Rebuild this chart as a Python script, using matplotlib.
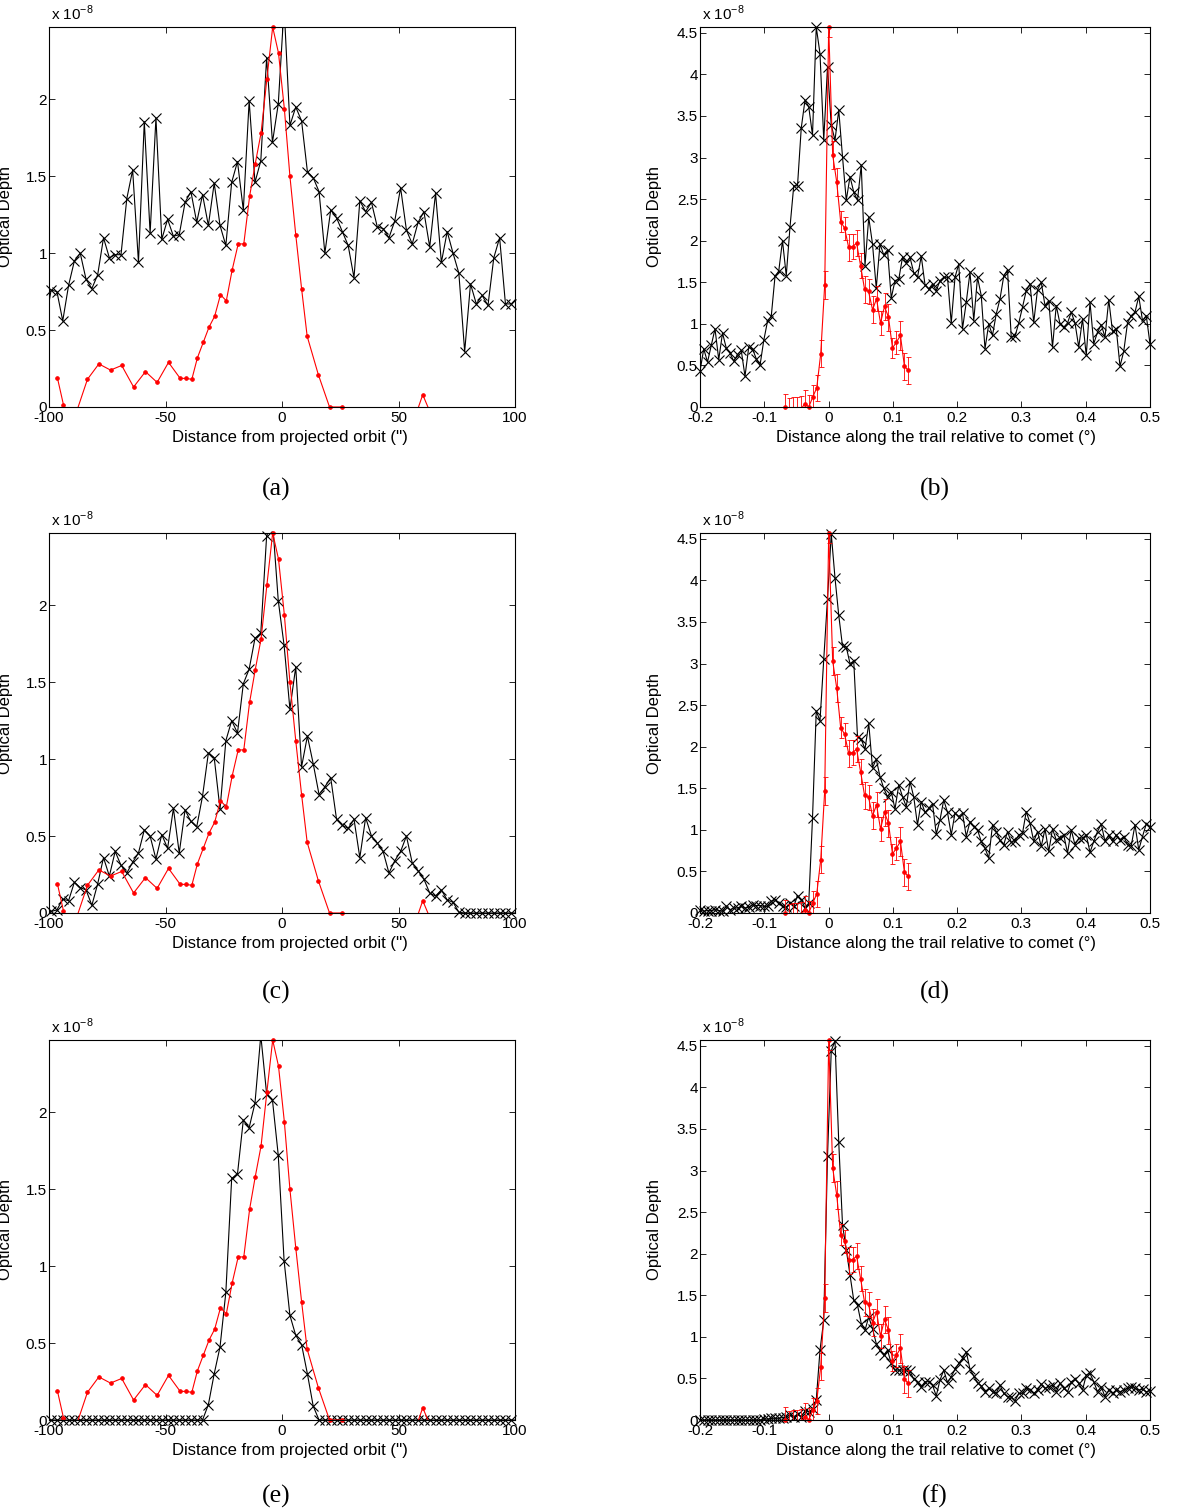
import numpy as np
import matplotlib
matplotlib.use('Agg')
import matplotlib.pyplot as plt
from matplotlib.ticker import FuncFormatter

plt.rcParams['font.family'] = ['Liberation Sans', 'DejaVu Sans']
plt.rcParams['axes.unicode_minus'] = False
plt.rcParams['mathtext.fontset'] = 'custom'
plt.rcParams['mathtext.rm'] = 'Liberation Sans'

# ---- data (optical depth in units of 1e-8) ----
# cross-trail profiles, sample grid of the black curves (arcsec)
x_cross = np.arange(82) * 2.5 - 101.6

y_cross_a = [0.54,
             0.76, 0.75, 0.56, 0.79, 0.95, 1.0, 0.83, 0.77, 0.86, 1.10,
             0.97, 0.99, 0.99, 1.355, 1.54, 0.94, 1.855, 1.13, 1.88, 1.09,
             1.22, 1.11, 1.12, 1.33, 1.40, 1.20, 1.38, 1.18, 1.455, 1.18,
             1.05, 1.46, 1.595, 1.28, 1.99, 1.46, 1.60, 2.27, 1.72, 1.97,
             2.6, 1.83, 1.95, 1.86, 1.53, 1.49, 1.40, 1.0, 1.28, 1.23,
             1.14, 1.05, 0.84, 1.34, 1.27, 1.33, 1.17, 1.16, 1.10, 1.21,
             1.425, 1.15, 1.06, 1.20, 1.27, 1.04, 1.39, 0.94, 1.14, 1.0,
             0.87, 0.36, 0.80, 0.67, 0.725, 0.66, 0.97, 1.10, 0.67, 0.67,
             0.71]

y_cross_c = [0.0,
             0.01, 0.02, 0.09, 0.08, 0.20, 0.165, 0.15, 0.05, 0.19, 0.36,
             0.24, 0.40, 0.31, 0.26, 0.33, 0.39, 0.54, 0.50, 0.35, 0.51,
             0.42, 0.68, 0.39, 0.67, 0.595, 0.56, 0.76, 1.04, 1.01, 0.675,
             1.12, 1.25, 1.17, 1.49, 1.585, 1.785, 1.82, 2.45, 2.55, 2.03,
             1.74, 1.325, 1.60, 0.95, 1.15, 0.97, 0.77, 0.82, 0.88, 0.61,
             0.57, 0.55, 0.61, 0.36, 0.62, 0.50, 0.455, 0.40, 0.26, 0.34,
             0.40, 0.50, 0.325, 0.275, 0.22, 0.13, 0.11, 0.15, 0.085, 0.07,
             0.005, 0.0, 0.0, 0.0, 0.0, 0.0, 0.0, 0.0, 0.0, 0.0,
             0.0]

y_cross_e = [0.0,
             0.0, 0.0, 0.0, 0.0, 0.0, 0.0, 0.0, 0.0, 0.0, 0.0,
             0.0, 0.0, 0.0, 0.0, 0.0, 0.0, 0.0, 0.0, 0.0, 0.0,
             0.0, 0.0, 0.0, 0.0, 0.0, 0.0, 0.0, 0.10, 0.30, 0.475,
             0.83, 1.57, 1.60, 1.95, 1.90, 2.06, 2.5, 2.12, 2.08, 1.72,
             1.035, 0.68, 0.55, 0.49, 0.30, 0.09, 0.0, 0.0, 0.0, 0.0,
             0.0, 0.0, 0.0, 0.0, 0.0, 0.0, 0.0, 0.0, 0.0, 0.0,
             0.0, 0.0, 0.0, 0.0, 0.0, 0.0, 0.0, 0.0, 0.0, 0.0,
             0.0, 0.0, 0.0, 0.0, 0.0, 0.0, 0.0, 0.0, 0.0, 0.0,
             0.0]

# observed cross-trail profile (red, same in a, c, e)
x_obs_cross = [-96.4, -93.8, -91.2, -88.6, -83.5, -78.6, -73.6, -68.8, -63.7, -58.6,
               -53.6, -48.7, -43.7, -41.2, -38.7, -36.3, -33.8, -31.3, -28.9, -26.4,
               -23.9, -21.4, -18.8, -16.4, -13.9, -11.5, -9.0, -6.5, -4.0, -1.5,
               1.0, 3.4, 5.9, 8.4, 10.8, 15.6, 20.4, 25.6, 30.5, 40.0,
               50.0, 57.9, 60.4, 62.9, 70.0, 80.0, 90.0, 100.0]
y_obs_cross = [0.19, 0.015, -0.15, -0.05, 0.18, 0.28, 0.24, 0.27, 0.13, 0.23,
               0.16, 0.29, 0.186, 0.186, 0.18, 0.32, 0.42, 0.52, 0.59, 0.73,
               0.69, 0.89, 1.06, 1.06, 1.37, 1.58, 1.78, 2.13, 2.47, 2.30,
               1.94, 1.50, 1.12, 0.77, 0.46, 0.21, 0.0, 0.0, -0.3, -0.3,
               -0.3, -0.03, 0.08, -0.01, -0.3, -0.3, -0.3, -0.3]

# along-trail profiles (degrees)
x_along = np.linspace(-0.2, 0.5, 121)

y_along_b = [0.43, 0.70, 0.54, 0.74, 0.94, 0.57, 0.89, 0.71, 0.65, 0.55,
             0.63, 0.68, 0.37, 0.72, 0.70, 0.58, 0.50, 0.80, 1.03, 1.09,
             1.57, 1.635, 2.0, 1.58, 2.165, 2.66, 2.66, 3.355, 3.69, 3.61,
             3.27, 4.57, 4.25, 3.21, 4.09, 3.39, 3.21, 3.57, 3.01, 2.485,
             2.77, 2.585, 2.485, 2.91, 1.70, 2.28, 1.96, 1.43, 1.96, 1.83,
             1.89, 1.31, 1.52, 1.535, 1.80, 1.735, 1.80, 1.615, 1.56, 1.815,
             1.47, 1.42, 1.48, 1.40, 1.52, 1.56, 1.56, 1.01, 1.56, 1.72,
             0.94, 1.26, 1.62, 1.04, 1.56, 1.34, 0.70, 1.0, 0.86, 1.12,
             1.30, 1.575, 1.65, 0.84, 0.85, 1.01, 1.20, 1.40, 1.48, 1.02,
             1.41, 1.50, 1.22, 1.28, 0.72, 1.22, 1.0, 0.96, 1.01, 1.14,
             1.01, 0.72, 1.06, 0.62, 1.26, 0.76, 0.90, 0.99, 0.84, 1.29,
             0.91, 0.94, 0.49, 0.67, 1.01, 1.10, 1.14, 1.33, 1.04, 1.10,
             0.76]

y_along_d = [0.04, 0.02, 0.03, 0.03, 0.04, 0.03, 0.02, 0.08, 0.04, 0.06,
             0.06, 0.08, 0.06, 0.07, 0.10, 0.09, 0.09, 0.08, 0.08, 0.14,
             0.16, 0.12, 0.08, 0.07, 0.12, 0.08, 0.21, 0.16, 0.06, 0.12,
             1.14, 2.43, 2.31, 3.05, 3.78, 4.56, 4.03, 3.58, 3.21, 3.20,
             3.0, 3.03, 2.12, 2.09, 1.97, 2.28, 1.745, 1.85, 1.64, 1.50,
             1.40, 1.46, 1.25, 1.54, 1.40, 1.28, 1.58, 1.395, 1.06, 1.34,
             1.21, 1.26, 1.315, 0.95, 1.12, 1.36, 1.21, 0.94, 1.20, 1.16,
             1.20, 0.92, 1.10, 1.04, 1.0, 0.86, 0.78, 0.66, 1.06, 0.98,
             0.875, 0.82, 0.98, 0.85, 0.86, 0.94, 0.96, 1.22, 1.08, 0.86,
             0.98, 0.80, 1.01, 0.74, 1.01, 0.88, 0.90, 0.94, 0.72, 1.0,
             0.82, 0.90, 0.90, 0.94, 0.73, 0.86, 0.98, 1.07, 0.86, 0.94,
             0.86, 0.94, 0.88, 0.92, 0.82, 0.81, 1.06, 0.76, 0.92, 1.07,
             1.04]

y_along_f = [0.0, 0.0, 0.0, 0.0, 0.0, 0.0, 0.0, 0.0, 0.0, 0.0,
             0.0, 0.0, 0.0, 0.0, 0.0, 0.0, 0.0, 0.01, 0.01, 0.02,
             0.02, 0.02, 0.03, 0.04, 0.06, 0.04, 0.07, 0.04, 0.11, 0.10,
             0.13, 0.24, 0.84, 1.20, 3.17, 4.44, 4.56, 3.34, 2.35, 2.05,
             1.745, 1.44, 1.38, 1.16, 1.08, 1.24, 1.10, 0.92, 0.84, 0.78,
             0.84, 0.68, 0.60, 0.60, 0.60, 0.60, 0.59, 0.49, 0.46, 0.40,
             0.46, 0.46, 0.42, 0.29, 0.48, 0.60, 0.45, 0.52, 0.61, 0.68,
             0.74, 0.82, 0.61, 0.53, 0.45, 0.41, 0.34, 0.38, 0.34, 0.32,
             0.42, 0.32, 0.28, 0.28, 0.23, 0.32, 0.32, 0.39, 0.36, 0.32,
             0.36, 0.43, 0.38, 0.40, 0.42, 0.34, 0.44, 0.38, 0.34, 0.46,
             0.49, 0.44, 0.36, 0.54, 0.56, 0.46, 0.34, 0.40, 0.28, 0.36,
             0.32, 0.36, 0.34, 0.36, 0.38, 0.40, 0.38, 0.36, 0.37, 0.34,
             0.35]

# observed along-trail profile with errors (red, same in b, d, f)
x_obs_along = np.arange(32) * 0.0062 - 0.068
y_obs_along = [0.0, -0.03, -0.03, -0.03, -0.03, 0.04, 0.0, 0.12, 0.23, 0.64,
               1.47, 4.57, 3.03, 2.71, 2.23, 2.15, 1.92, 1.93, 1.97, 1.70,
               1.415, 1.39, 1.17, 1.30, 1.01, 1.21, 1.08, 0.71, 0.78, 0.86,
               0.49, 0.44]
err_obs_along = [0.16, 0.14, 0.15, 0.15, 0.16, 0.16, 0.15, 0.15, 0.16, 0.16,
                 0.17, 0.12, 0.17, 0.17, 0.13, 0.14, 0.16, 0.15, 0.16, 0.15,
                 0.16, 0.15, 0.16, 0.15, 0.15, 0.16, 0.16, 0.12, 0.14, 0.17,
                 0.16, 0.16]

cross_ticks = [-100, -50, 0, 50, 100]
along_ticks = [-0.2, -0.1, 0, 0.1, 0.2, 0.3, 0.4, 0.5]
cross_yticks = [0, 0.5, 1, 1.5, 2]
along_yticks = [0, 0.5, 1, 1.5, 2, 2.5, 3, 3.5, 4, 4.5]
letters = ['(a)', '(b)', '(c)', '(d)', '(e)', '(f)']

W, H = 1200, 1511
fig = plt.figure(figsize=(W / 100, H / 100), dpi=100)

def px_axes(left, top, right, bottom):
    return fig.add_axes([left / W, 1 - bottom / H, (right - left) / W, (bottom - top) / H])


def add_series(ax, x, y, ymax, color, marker, ms, mew=0.8):
    # line clipped to the box, markers drawn whole when the point is inside
    x = np.asarray(x, dtype=float)
    y = np.asarray(y, dtype=float)
    ax.plot(x, y, '-', color=color, lw=0.8)
    lo, hi = ax.get_xlim()
    m = (y >= 0) & (y <= ymax + 1e-9) & (x >= lo) & (x <= hi)
    ax.plot(x[m], y[m], ls='none', marker=marker, ms=ms, mew=mew,
            color=color, clip_on=False)


def style_axes(ax, xlim, ylim, xticks, yticks, xlabel, xlab_x, ylab_x):
    ax.set_xlim(*xlim)
    ax.set_ylim(*ylim)
    ax.set_xticks(xticks)
    ax.set_yticks(yticks)
    fmt = FuncFormatter(lambda v, p: '%g' % v)
    ax.xaxis.set_major_formatter(fmt)
    ax.yaxis.set_major_formatter(fmt)
    ax.tick_params(direction='in', top=True, right=True, length=4, width=0.6,
                   labelsize=11)
    ax.tick_params(axis='x', pad=3)
    ax.tick_params(axis='y', pad=1.5)
    for s in ax.spines.values():
        s.set_linewidth(0.8)
    ax.set_xlabel(xlabel, fontsize=12)
    ax.xaxis.set_label_coords(xlab_x, -0.06)
    ax.set_ylabel('Optical Depth', fontsize=12)
    ax.yaxis.set_label_coords(ylab_x, 0.5)
    ax.text(0.005, 1.01, r'x 10$^{-8}$', transform=ax.transAxes, ha='left',
            va='bottom', fontsize=11)


rows = [(27, 407), (533, 913), (1040, 1420)]
letter_y = [489, 992, 1496]
cross_sets = [y_cross_a, y_cross_c, y_cross_e]
along_sets = [y_along_b, y_along_d, y_along_f]

for i, (top, bot) in enumerate(rows):
    # left column: cross-trail
    ax = px_axes(49, top, 515, bot)
    style_axes(ax, (-100, 100), (0, 2.47), cross_ticks, cross_yticks,
               "Distance from projected orbit ('')", 0.518, -0.078)
    add_series(ax, x_cross, cross_sets[i], 2.47, 'black', 'x', 6.5)
    add_series(ax, x_obs_cross, y_obs_cross, 2.47, 'red', '.', 5)

    # right column: along-trail
    ax = px_axes(700, top, 1150, bot)
    style_axes(ax, (-0.2, 0.5), (0, 4.57), along_ticks, along_yticks,
               u'Distance along the trail relative to comet (\u00b0)', 0.524, -0.084)
    add_series(ax, x_along, along_sets[i], 4.57, 'black', 'x', 6.5)
    ax.errorbar(x_obs_along, y_obs_along, yerr=err_obs_along, fmt='none',
                ecolor='red', elinewidth=0.6, capsize=1.8, capthick=0.6)
    add_series(ax, x_obs_along, y_obs_along, 4.57, 'red', '.', 5)

    fig.text(276 / W, 1 - letter_y[i] / H, letters[2 * i], ha='center', va='center',
             fontsize=18.5, family='Liberation Serif')
    fig.text(935 / W, 1 - letter_y[i] / H, letters[2 * i + 1], ha='center', va='center',
             fontsize=18.5, family='Liberation Serif')

fig.savefig('out.png', dpi=100, facecolor='white')
